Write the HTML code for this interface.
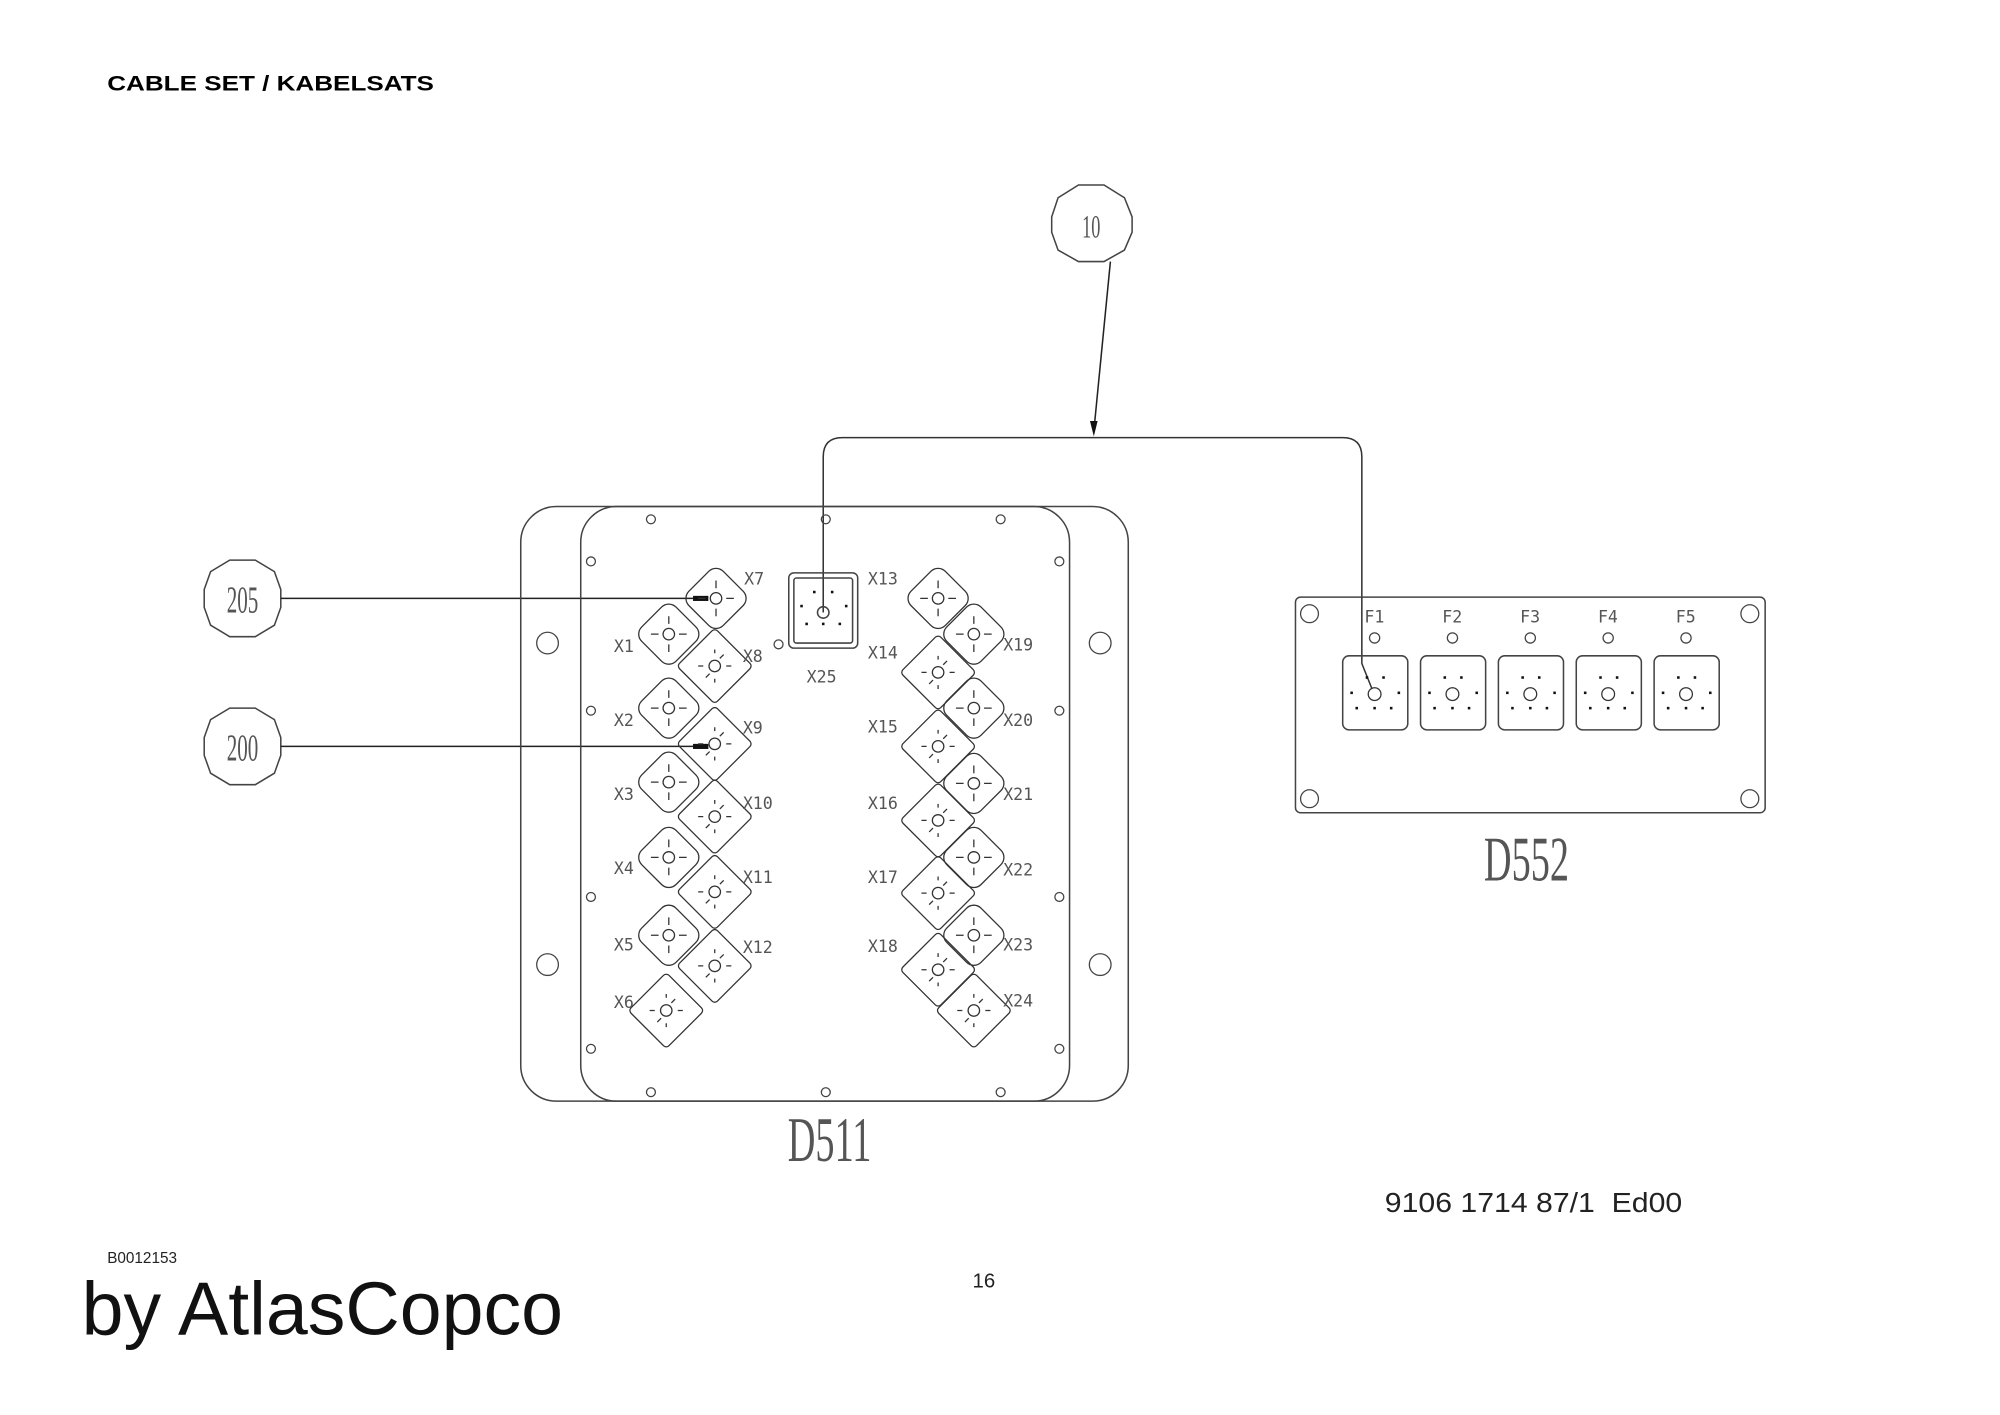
<!DOCTYPE html>
<html><head><meta charset="utf-8"><style>
html,body{margin:0;padding:0;background:#fff;}
svg{display:block;}
</style></head><body>
<svg width="2000" height="1415" viewBox="0 0 1567 1109" preserveAspectRatio="none" xmlns="http://www.w3.org/2000/svg">
<defs>
<g id="dA">
 <rect x="-19" y="-19" width="38" height="38" rx="8" transform="rotate(45)" fill="none" stroke="#333" stroke-width="1"/>
 <circle r="4.5" fill="none" stroke="#333" stroke-width="1"/>
 <path d="M-14 0h6M8 0h6M0 -14v6M0 8v6" stroke="#333" stroke-width="1"/>
</g>
<g id="dB">
 <rect x="-21" y="-21" width="42" height="42" rx="3" transform="rotate(45)" fill="none" stroke="#333" stroke-width="1"/>
 <circle r="4.5" fill="none" stroke="#333" stroke-width="1"/>
 <path d="M-13 0h4M9 0h4M0 -13v3M0 10v3M4 -6l3 -3M-4 6l-3 3" stroke="#333" stroke-width="1"/>
</g>
<g id="fb">
 <rect x="0" y="0" width="51" height="58" rx="5" fill="none" stroke="#444" stroke-width="1.2"/>
 <circle cx="25" cy="30" r="5" fill="none" stroke="#333"/>
 <g fill="#111"><rect x="18" y="16" width="2" height="2"/><rect x="31" y="16" width="2" height="2"/>
 <rect x="6" y="28" width="2" height="2"/><rect x="43" y="28" width="2" height="2"/>
 <rect x="10" y="40" width="2" height="2"/><rect x="24" y="40" width="2" height="2"/><rect x="37" y="40" width="2" height="2"/></g>
</g>
</defs>
<text x="84" y="71" font-family="Liberation Sans, sans-serif" font-weight="bold" font-size="17" textLength="256" lengthAdjust="spacingAndGlyphs">CABLE SET / KABELSATS</text>

<g fill="none" stroke="#444" stroke-width="1.2">
 <polygon points="845,145 865,145 881,155 887,170 887,182 881,196 865,205 845,205 829,196 824,182 824,170 829,155"/>
 <polygon points="180,439 200,439 215,448 220,462 220,476 215,490 200,499 180,499 165,490 160,476 160,462 165,448"/>
 <polygon points="180,555 200,555 215,564 220,578 220,592 215,606 200,615 180,615 165,606 160,592 160,578 165,564"/>
 <path d="M870 205 L857 338" stroke="#222"/>
 <path d="M645 480 V358 Q645 343 660 343 H1052 Q1067 343 1067 358 V520 L1075 540" stroke="#333"/>
 <path d="M220 469 H548" stroke="#222"/>
 <path d="M220 585 H548" stroke="#222"/>
 <rect x="408" y="397" width="476" height="466" rx="28"/>
 <rect x="455" y="397" width="383" height="466" rx="28"/>
 <rect x="1015" y="468" width="368" height="169" rx="4"/>
 <rect x="618" y="449" width="54" height="59" rx="4"/>
 <rect x="622" y="453" width="46" height="51" rx="2"/>
 <circle cx="645" cy="480" r="4.5"/>
</g>
<polygon points="854,330 860,330 857,342" fill="#111"/>
<rect x="543" y="467" width="12" height="4" fill="#111"/>
<rect x="543" y="583" width="12" height="4" fill="#111"/>
<g fill="#111"><rect x="637" y="463" width="2" height="2"/><rect x="651" y="463" width="2" height="2"/><rect x="627" y="474" width="2" height="2"/><rect x="662" y="474" width="2" height="2"/><rect x="631" y="488" width="2" height="2"/><rect x="644" y="488" width="2" height="2"/><rect x="657" y="488" width="2" height="2"/></g>

<g fill="none" stroke="#444" stroke-width="1">
 <circle cx="510" cy="407" r="3.5"/><circle cx="647" cy="407" r="3.5"/><circle cx="784" cy="407" r="3.5"/>
 <circle cx="510" cy="856" r="3.5"/><circle cx="647" cy="856" r="3.5"/><circle cx="784" cy="856" r="3.5"/>
 <circle cx="463" cy="440" r="3.5"/><circle cx="463" cy="557" r="3.5"/><circle cx="463" cy="703" r="3.5"/><circle cx="463" cy="822" r="3.5"/>
 <circle cx="830" cy="440" r="3.5"/><circle cx="830" cy="557" r="3.5"/><circle cx="830" cy="703" r="3.5"/><circle cx="830" cy="822" r="3.5"/>
 <circle cx="610" cy="505" r="3.5"/>
 <circle cx="429" cy="504" r="8.5"/><circle cx="429" cy="756" r="8.5"/><circle cx="862" cy="504" r="8.5"/><circle cx="862" cy="756" r="8.5"/>
 <circle cx="1026" cy="481" r="7"/><circle cx="1371" cy="481" r="7"/><circle cx="1026" cy="626" r="7"/><circle cx="1371" cy="626" r="7"/>
 <circle cx="1077" cy="500" r="4"/><circle cx="1138" cy="500" r="4"/><circle cx="1199" cy="500" r="4"/><circle cx="1260" cy="500" r="4"/><circle cx="1321" cy="500" r="4"/>
</g>
<use href="#fb" x="1052" y="514"/><use href="#fb" x="1113" y="514"/><use href="#fb" x="1174" y="514"/><use href="#fb" x="1235" y="514"/><use href="#fb" x="1296" y="514"/>

<use href="#dA" x="524" y="497"/><use href="#dA" x="524" y="555"/><use href="#dA" x="524" y="613"/><use href="#dA" x="524" y="672"/><use href="#dA" x="524" y="733"/><use href="#dB" x="522" y="792"/>
<use href="#dA" x="561" y="469"/><use href="#dB" x="560" y="522"/><use href="#dB" x="560" y="583"/><use href="#dB" x="560" y="640"/><use href="#dB" x="560" y="699"/><use href="#dB" x="560" y="757"/>
<use href="#dA" x="735" y="469"/><use href="#dB" x="735" y="527"/><use href="#dB" x="735" y="585"/><use href="#dB" x="735" y="643"/><use href="#dB" x="735" y="700"/><use href="#dB" x="735" y="760"/>
<use href="#dA" x="763" y="497"/><use href="#dA" x="763" y="555"/><use href="#dA" x="763" y="614"/><use href="#dA" x="763" y="672"/><use href="#dA" x="763" y="733"/><use href="#dB" x="763" y="792"/>

<g font-family="DejaVu Sans Mono, Liberation Mono, monospace" font-size="13" fill="#555">
 <text x="583" y="458">X7</text><text x="481" y="511">X1</text><text x="582" y="519">X8</text><text x="481" y="569">X2</text><text x="582" y="575">X9</text>
 <text x="481" y="627">X3</text><text x="582" y="634">X10</text><text x="481" y="685">X4</text><text x="582" y="692">X11</text><text x="481" y="745">X5</text><text x="582" y="747">X12</text><text x="481" y="790">X6</text>
 <text x="680" y="458">X13</text><text x="680" y="516">X14</text><text x="786" y="510">X19</text><text x="680" y="574">X15</text><text x="786" y="569">X20</text>
 <text x="680" y="634">X16</text><text x="786" y="627">X21</text><text x="680" y="692">X17</text><text x="786" y="686">X22</text><text x="680" y="746">X18</text><text x="786" y="745">X23</text><text x="786" y="789">X24</text>
 <text x="632" y="535">X25</text>
 <text x="1069" y="488">F1</text><text x="1130" y="488">F2</text><text x="1191" y="488">F3</text><text x="1252" y="488">F4</text><text x="1313" y="488">F5</text>
</g>
<g font-family="Liberation Serif, serif" fill="#555" text-anchor="middle">
 <text x="855" y="186" font-size="26" transform="translate(855,0) scale(0.55,1) translate(-855,0)">10</text>
 <text x="190" y="480" font-size="30" transform="translate(190,0) scale(0.55,1) translate(-190,0)">205</text>
 <text x="190" y="596" font-size="30" transform="translate(190,0) scale(0.55,1) translate(-190,0)">200</text>
 <text x="650" y="910" font-size="50" transform="translate(650,0) scale(0.6,1) translate(-650,0)">D511</text>
 <text x="1196" y="690" font-size="50" transform="translate(1196,0) scale(0.6,1) translate(-1196,0)">D552</text>
</g>
<text x="1085" y="950" font-family="Liberation Sans, sans-serif" font-size="22" fill="#222" xml:space="preserve" textLength="233" lengthAdjust="spacingAndGlyphs">9106 1714 87/1  Ed00</text>
<text x="84" y="990" font-family="Liberation Sans, sans-serif" font-size="12" fill="#222">B0012153</text>
<text x="762" y="1009" font-family="Liberation Sans, sans-serif" font-size="16" fill="#222">16</text>
<text x="64" y="1046" font-family="Liberation Sans, sans-serif" font-size="59" fill="#111">by AtlasCopco</text>
</svg>
</body></html>
